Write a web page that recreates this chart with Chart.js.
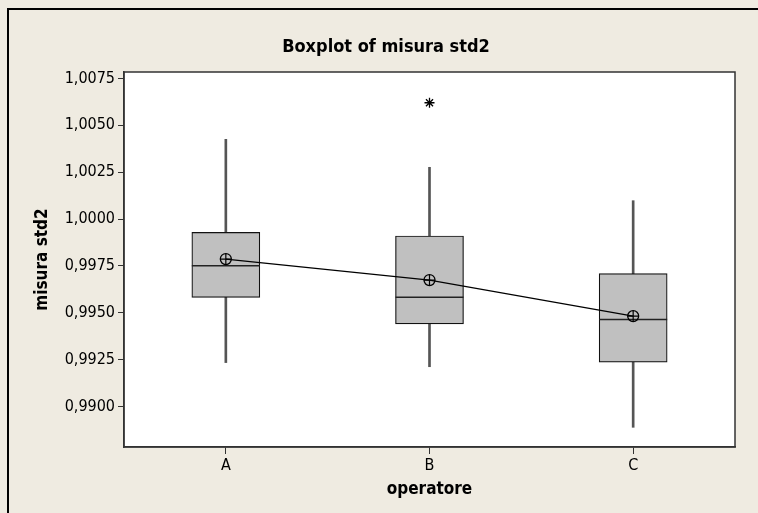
<!DOCTYPE html>
<html>
<head>
<meta charset="utf-8">
<script src="https://cdn.jsdelivr.net/npm/chart.js@4.4.1/dist/chart.umd.min.js"></script>
<style>
  body { margin: 0; background: #efebe1; }
  #wrap { width: 758px; height: 513px; }
</style>
</head>
<body>
<div id="wrap"><canvas id="mycanvas" width="758" height="513"></canvas></div>
<script>
// operatore groups and their five-number summaries (misura std2)
var operators = ["A", "B", "C"];
var whiskerLow = [0.99235, 0.99213, 0.98890];
var q1 = [0.99583, 0.99441, 0.99237];
var median = [0.99751, 0.99583, 0.99464];
var q3 = [0.99929, 0.99910, 0.99709];
var whiskerHigh = [1.00425, 1.00276, 1.00098];
var means = [0.99787, 0.99675, 0.99483];
var outlierGroup = [2];
var outlierValue = [1.0062];
var yTicks = [0.9900, 0.9925, 0.9950, 0.9975, 1.0000, 1.0025, 1.0050, 1.0075];

var FONT = '"DejaVu Sans Condensed", "DejaVu Sans", sans-serif';

var whiskerData = [], boxData = [], medianData = [], meanData = [], outlierData = [];
for (var i in operators) {
  var x = Number(i) + 1;
  whiskerData.push({x: x, y: [whiskerLow[i], whiskerHigh[i]]});
  boxData.push({x: x, y: [q1[i], q3[i]]});
  medianData.push({x: x, y: median[i]});
  meanData.push({x: x, y: means[i]});
}
for (var j in outlierGroup) {
  outlierData.push({x: outlierGroup[j], y: outlierValue[j]});
}

// white plot area, frame round it, and the outer border of the graph window
var framePlugin = {
  id: 'frame',
  beforeDraw: function(chart) {
    var c = chart.ctx, a = chart.chartArea;
    c.save();
    c.fillStyle = '#ffffff';
    c.fillRect(a.left, a.top, a.right - a.left, a.bottom - a.top);
    c.restore();
  },
  afterDraw: function(chart) {
    var c = chart.ctx, a = chart.chartArea;
    c.save();
    c.strokeStyle = '#333333';
    c.lineWidth = 1.5;
    c.strokeRect(a.left, a.top, a.right - a.left, a.bottom - a.top);
    c.strokeStyle = '#000000';
    c.lineWidth = 2;
    c.beginPath();
    c.moveTo(8, chart.height);
    c.lineTo(8, 9);
    c.lineTo(chart.width, 9);
    c.stroke();
    c.restore();
  }
};

var chartdata = {
  datasets: [
    {
      label: "whiskers",
      type: 'bar',
      data: whiskerData,
      backgroundColor: "#555555",
      barThickness: 2,
      grouped: false,
      order: 5
    },
    {
      label: "boxes",
      type: 'bar',
      data: boxData,
      backgroundColor: "#c0c0c0",
      borderColor: "#111111",
      borderWidth: 1.2,
      borderSkipped: false,
      barThickness: 68,
      grouped: false,
      order: 4
    },
    {
      label: "median",
      type: 'scatter',
      data: medianData,
      pointStyle: 'line',
      pointRadius: 34,
      pointHoverRadius: 34,
      borderColor: "#222222",
      borderWidth: 1.5,
      order: 3
    },
    {
      label: "mean",
      type: 'line',
      data: meanData,
      borderColor: "#000000",
      borderWidth: 1.2,
      fill: false,
      lineTension: 0,
      pointStyle: 'circle',
      pointRadius: 5.5,
      pointBackgroundColor: "rgba(0,0,0,0)",
      pointBorderColor: "#000000",
      pointBorderWidth: 1.3,
      order: 2
    },
    {
      label: "mean cross",
      type: 'scatter',
      data: meanData,
      pointStyle: 'cross',
      pointRadius: 5.5,
      borderColor: "#000000",
      borderWidth: 1.2,
      order: 1
    },
    {
      label: "outlier",
      type: 'scatter',
      data: outlierData,
      pointStyle: 'star',
      pointRadius: 5,
      borderColor: "#000000",
      borderWidth: 1.3,
      order: 0
    }
  ]
};

var ctx = document.getElementById("mycanvas");
var boxplot = new Chart(ctx, {
  type: 'bar',
  data: chartdata,
  plugins: [framePlugin],
  options: {
    responsive: false,
    animation: false,
    events: [],
    // median markers have a large radius; keep it from padding the plot area
    layout: { autoPadding: false, padding: { left: 37, right: 23, top: 0, bottom: 0 } },
    plugins: {
      legend: { display: false },
      tooltip: { enabled: false },
      title: {
        display: true,
        text: "Boxplot of misura std2",
        color: "#000000",
        font: { family: FONT, size: 18, weight: 'bold' },
        padding: { top: 36.2, bottom: 14.2 }
      }
    },
    scales: {
      x: {
        type: 'linear',
        min: 0.5,
        max: 3.5,
        offset: false,
        afterBuildTicks: function(s) {
          s.ticks = operators.map(function(o, k) { return {value: k + 1}; });
        },
        afterFit: function(s) {
          s.height = 66;
          s.paddingLeft = 0;
          s.paddingRight = 0;
        },
        ticks: {
          color: "#000000",
          font: { family: FONT, size: 16 },
          padding: 2,
          callback: function(v) { return operators[v - 1]; }
        },
        grid: { offset: false, drawOnChartArea: false, tickLength: 7, color: "#333333", tickWidth: 1 },
        border: { display: true, color: "#333333", width: 1.5 },
        title: {
          display: true,
          text: "operatore",
          color: "#000000",
          font: { family: FONT, size: 17, weight: 'bold' },
          padding: { bottom: 12.8 }
        }
      },
      y: {
        type: 'linear',
        min: 0.98785,
        max: 1.00784,
        afterBuildTicks: function(s) {
          s.ticks = yTicks.map(function(v) { return {value: v}; });
        },
        afterFit: function(s) {
          s.width = 87;
          s.paddingTop = 0;
          s.paddingBottom = 0;
        },
        ticks: {
          color: "#000000",
          font: { family: FONT, size: 16 },
          padding: 3,
          callback: function(v) { return v.toFixed(4).replace('.', ','); }
        },
        grid: { drawOnChartArea: false, tickLength: 6, color: "#333333", tickWidth: 1 },
        border: { display: true, color: "#333333", width: 1.5 },
        title: {
          display: true,
          text: "misura std2",
          color: "#000000",
          font: { family: FONT, size: 17, weight: 'bold' },
          padding: { top: -4.2 }
        }
      }
    }
  }
});
</script>
</body>
</html>
